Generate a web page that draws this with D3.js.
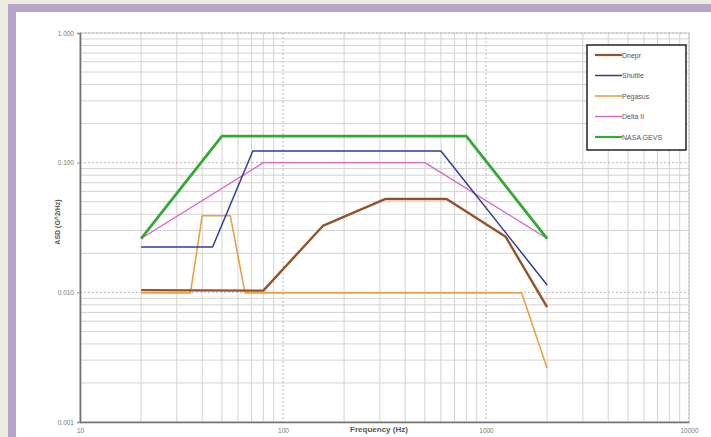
<!DOCTYPE html>
<html>
<head>
<meta charset="utf-8">
<script src="https://cdn.jsdelivr.net/npm/d3@7"></script>
<style>
  body { margin: 0; background: #eeebe1; }
  svg { display: block; font-family: "Liberation Sans", Arial, sans-serif; }
</style>
</head>
<body>
<div id="chart"></div>
<script>
const width = 711,
      height = 437,
      margin = { top: 33, right: 22, bottom: 15, left: 80 };

const innerWidth = width - (margin.right + margin.left),
      innerHeight = height - (margin.top + margin.bottom);

// series: [frequency Hz, ASD G^2/Hz]
const seriesNames = ['Dnepr', 'Shuttle', 'Pegasus', 'Delta II', 'NASA GEVS'];
const dnepr = [[20, 0.0104], [80, 0.0103], [157, 0.0325], [320, 0.0525], [640, 0.0525], [1250, 0.0268], [2000, 0.0077]];
const shuttle = [[20, 0.0224], [45, 0.0224], [71, 0.123], [600, 0.123], [2000, 0.0114]];
const pegasus = [[20, 0.0099], [35, 0.0099], [40, 0.039], [55, 0.039], [65, 0.0099], [1500, 0.0099], [2000, 0.0026]];
const deltaII = [[20, 0.026], [80, 0.1], [500, 0.1], [2000, 0.026]];
const nasaGevs = [[20, 0.026], [50, 0.16], [800, 0.16], [2000, 0.026]];

const xTickLabels = [10, 100, 1000, 10000];
const yTickLabels = [1, 0.1, 0.01, 0.001];

const colors = ['#93532a', '#2f3d98', '#e9a243', '#d667c4', '#35a835'],
      strokeWidths = [2.4, 1.5, 1.6, 1.4, 2.8];

const svg = d3.select('#chart').append('svg')
    .attr('width', width)
    .attr('height', height);

// frame: beige outside, purple band, white page
svg.append('rect').attr('width', width).attr('height', height).attr('fill', '#eeebe1');
svg.append('rect').attr('x', 8).attr('y', 4).attr('width', width - 8).attr('height', height - 4).attr('fill', '#b4a5c9');
svg.append('rect').attr('x', 16).attr('y', 12).attr('width', width - 16).attr('height', height - 12).attr('fill', '#ffffff');

const plot = svg.append('g')
    .attr('transform', `translate(${margin.left}, ${margin.top})`);

const xScale = d3.scaleLog()
    .domain([10, 10000])
    .range([0, innerWidth]),
  yScale = d3.scaleLog()
    .domain([0.001, 1])
    .range([innerHeight, 0]);

// gridlines
const isMajor = v => Math.abs(Math.log10(v) - Math.round(Math.log10(v))) < 1e-6;

plot.selectAll('.vgrid')
    .data(xScale.ticks())
    .enter().append('line')
      .attr('x1', d => xScale(d)).attr('x2', d => xScale(d))
      .attr('y1', 0).attr('y2', innerHeight)
      .attr('stroke', d => isMajor(d) ? '#b8b8b8' : '#d2d2d2')
      .attr('stroke-dasharray', d => isMajor(d) ? '2,2' : null)
      .attr('stroke-width', 1);

plot.selectAll('.hgrid')
    .data(yScale.ticks())
    .enter().append('line')
      .attr('x1', 0).attr('x2', innerWidth)
      .attr('y1', d => yScale(d)).attr('y2', d => yScale(d))
      .attr('stroke', d => isMajor(d) ? '#b8b8b8' : '#d2d2d2')
      .attr('stroke-dasharray', d => isMajor(d) ? '2,2' : null)
      .attr('stroke-width', 1);

// border
plot.append('rect')
    .attr('width', innerWidth).attr('height', innerHeight)
    .attr('fill', 'none').attr('stroke', '#c4c4c4');

// axes
const yAxis = plot.append('g')
    .call(d3.axisLeft(yScale).tickValues(yTickLabels).tickFormat(d3.format('.3f')).tickSize(3));
const xAxis = plot.append('g')
    .attr('transform', `translate(0, ${innerHeight})`)
    .call(d3.axisBottom(xScale).tickValues(xTickLabels).tickFormat(d3.format('d')).tickSize(0).tickPadding(6));

[yAxis, xAxis].forEach(a => {
  a.select('.domain').attr('stroke', '#707070').attr('stroke-width', 1.6);
  a.selectAll('.tick line').attr('stroke', '#999');
  a.selectAll('.tick text').attr('fill', '#777').attr('font-size', 6.5).attr('font-family', 'Liberation Sans, Arial, sans-serif');
});

svg.append('text')
    .attr('x', 379).attr('y', 432)
    .attr('text-anchor', 'middle')
    .attr('font-size', 8).attr('font-weight', 'bold').attr('fill', '#555')
    .text('Frequency (Hz)');

svg.append('text')
    .attr('transform', 'translate(60, 222) rotate(-90)')
    .attr('text-anchor', 'middle')
    .attr('font-size', 7).attr('font-weight', 'bold').attr('fill', '#555')
    .text('ASD (G^2/Hz)');

// lines
const line = d3.line()
    .x(d => xScale(d[0]))
    .y(d => yScale(d[1]));

const allSeries = [dnepr, shuttle, pegasus, deltaII, nasaGevs];
const drawOrder = [2, 0, 3, 1, 4];

plot.selectAll('.series')
    .data(drawOrder)
    .enter().append('path')
      .attr('d', i => line(allSeries[i]))
      .attr('fill', 'none')
      .attr('stroke', i => colors[i])
      .attr('stroke-width', i => strokeWidths[i])
      .attr('stroke-linejoin', 'round');

// legend
const legend = svg.append('g')
    .attr('transform', 'translate(587, 45)');

legend.append('rect')
    .attr('width', 99).attr('height', 105)
    .attr('fill', '#fff').attr('stroke', '#222').attr('stroke-width', 1.5);

const item = legend.selectAll('.item')
    .data(seriesNames)
    .enter().append('g')
      .attr('transform', (d, i) => `translate(0, ${10 + i * 20.5})`);

item.append('line')
    .attr('x1', 8).attr('x2', 35)
    .attr('stroke', (d, i) => colors[i])
    .attr('stroke-width', (d, i) => Math.min(strokeWidths[i], 2.2));

item.append('text')
    .attr('x', 35).attr('y', 2.5)
    .attr('font-size', 7).attr('fill', '#555')
    .text(d => d);
</script>
</body>
</html>
